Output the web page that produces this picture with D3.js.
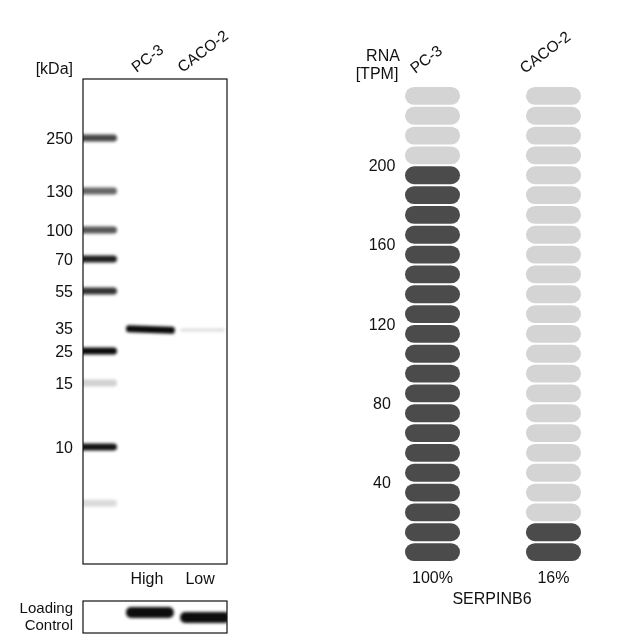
<!DOCTYPE html>
<html>
<head>
<meta charset="utf-8">
<script src="https://cdn.jsdelivr.net/npm/d3@7/dist/d3.min.js"></script>
<style>
  body { margin: 0; background: #fff; }
  text { font-family: "Liberation Sans", Arial, sans-serif; font-size: 16px; fill: #111; }
</style>
</head>
<body>
<div id="chart"></div>
<script>
// samples
const lanes = [ 'PC-3', 'CACO-2' ];
// western blot: marker ladder (labels and visible bands with their darkness)
const ladderLabels = [ 250, 130, 100, 70, 55, 35, 25, 15, 10 ];
const ladderBands = [ 250, 130, 100, 70, 55, 25, 15, 10, 7 ];
const ladderShade = [ 0.72, 0.6, 0.66, 0.88, 0.8, 0.96, 0.18, 0.93, 0.14 ];
// sample band (kDa) and darkness per lane
const sampleKda = [ 34, 34 ];
const sampleShade = [ 0.97, 0.14 ];
const expression = [ 'High', 'Low' ];
const loadingShade = [ 0.95, 0.95 ];
// RNA expression
const rnaTpm = [ 200, 24 ];
const rnaPercent = [ '100%', '16%' ];
const tpmTicks = [ 40, 80, 120, 160, 200 ];
const gene = 'SERPINB6';

const svg = d3.select( '#chart' ).append( 'svg' )
    .attr( 'width', 640 )
    .attr( 'height', 638 );

const defs = svg.append( 'defs' );
defs.append( 'filter' ).attr( 'id', 'blur' )
    .attr( 'x', '-20%' ).attr( 'y', '-200%' ).attr( 'width', '140%' ).attr( 'height', '500%' )
  .append( 'feGaussianBlur' ).attr( 'stdDeviation', '1.6 1.7' );

// ---------- left: western blot ----------
const blot = { x: 83, y: 79, w: 144, h: 485 };
const lc = { x: 83, y: 601, w: 144, h: 32 };

defs.append( 'clipPath' ).attr( 'id', 'blotclip' )
  .append( 'rect' ).attr( 'x', blot.x ).attr( 'y', blot.y ).attr( 'width', blot.w ).attr( 'height', blot.h );
defs.append( 'clipPath' ).attr( 'id', 'lcclip' )
  .append( 'rect' ).attr( 'x', lc.x ).attr( 'y', lc.y ).attr( 'width', lc.w ).attr( 'height', lc.h );

// migration calibration of the gel (log kDa -> y)
const yKda = d3.scaleLog()
    .domain( [ 250, 130, 100, 70, 55, 35, 25, 15, 10 ] )
    .range( [ 138, 191, 230, 259, 291, 328, 351, 383, 447 ] );

const xLane = d3.scaleBand()
    .domain( lanes )
    .range( [ 124, 228 ] )
    .paddingInner( 0.08 );

const bands = svg.append( 'g' ).attr( 'clip-path', 'url(#blotclip)' )
  .append( 'g' ).attr( 'filter', 'url(#blur)' );

bands.selectAll( 'rect.ladder' )
    .data( ladderBands )
    .enter()
    .append( 'rect' )
      .attr( 'class', 'ladder' )
      .attr( 'x', blot.x - 4 )
      .attr( 'y', function( d ){ return yKda( d ) - 3.5; } )
      .attr( 'width', 38 )
      .attr( 'height', 7 )
      .attr( 'rx', 3.5 )
      .style( 'fill', '#000' )
      .style( 'fill-opacity', function( d, i ){ return ladderShade[i]; } );

bands.selectAll( 'rect.sample' )
    .data( lanes )
    .enter()
    .append( 'rect' )
      .attr( 'class', 'sample' )
      .attr( 'x', function( d ){ return xLane( d ) + 2; } )
      .attr( 'y', function( d, i ){ return yKda( sampleKda[i] ) - ( i === 0 ? 4 : 1.5 ); } )
      .attr( 'width', function( d, i ){ return xLane.bandwidth() - ( i === 0 ? 1 : 5 ); } )
      .attr( 'height', function( d, i ){ return i === 0 ? 7 : 3; } )
      .attr( 'rx', 3 )
      .attr( 'transform', function( d, i ){
        return i === 0 ? 'rotate(2 ' + ( xLane( d ) + 25 ) + ' ' + yKda( sampleKda[i] ) + ')' : null; } )
      .style( 'fill', '#000' )
      .style( 'fill-opacity', function( d, i ){ return sampleShade[i]; } );

svg.append( 'rect' )
    .attr( 'x', blot.x ).attr( 'y', blot.y ).attr( 'width', blot.w ).attr( 'height', blot.h )
    .style( 'fill', 'none' ).style( 'stroke', '#111' ).style( 'stroke-width', 1.2 );

svg.selectAll( 'text.kda' )
    .data( ladderLabels )
    .enter()
    .append( 'text' )
      .attr( 'class', 'kda' )
      .attr( 'x', 73 )
      .attr( 'y', function( d ){ return yKda( d ); } )
      .attr( 'dy', '0.36em' )
      .attr( 'text-anchor', 'end' )
      .text( function( d ){ return d; } );

svg.append( 'text' ).attr( 'x', 73 ).attr( 'y', 74 ).attr( 'text-anchor', 'end' ).text( '[kDa]' );

// rotated lane labels
function laneLabels( g, xc, base, k ) {
  g.selectAll( 'text' )
    .data( lanes )
    .enter()
    .append( 'text' )
      .style( 'font-size', '15.5px' )
      .text( function( d ){ return d; } )
      .each( function( d ){
        const L = this.getComputedTextLength();
        const x0 = xc( d ) - k * L;
        d3.select( this ).attr( 'x', x0 ).attr( 'y', base )
          .attr( 'transform', 'rotate(-37 ' + x0 + ' ' + base + ')' );
      });
}
laneLabels( svg.append( 'g' ), function( d ){ return xLane( d ) + xLane.bandwidth() / 2; }, 73, 0.35 );

svg.selectAll( 'text.expr' )
    .data( expression )
    .enter()
    .append( 'text' )
      .attr( 'class', 'expr' )
      .attr( 'x', function( d, i ){ return xLane( lanes[i] ) + xLane.bandwidth() / 2 - ( i === 0 ? 2 : 3 ); } )
      .attr( 'y', 584 )
      .attr( 'text-anchor', 'middle' )
      .text( function( d ){ return d; } );

// loading control
const lcg = svg.append( 'g' ).attr( 'clip-path', 'url(#lcclip)' )
  .append( 'g' ).attr( 'filter', 'url(#blur)' );
lcg.selectAll( 'rect' )
    .data( lanes )
    .enter()
    .append( 'rect' )
      .attr( 'x', function( d ){ return xLane( d ) + 2; } )
      .attr( 'y', function( d, i ){ return i === 0 ? 607 : 612; } )
      .attr( 'width', function( d, i ){ return xLane.bandwidth() - ( i === 0 ? 2 : 0 ); } )
      .attr( 'height', 11 )
      .attr( 'rx', 5 )
      .style( 'fill', '#000' )
      .style( 'fill-opacity', function( d, i ){ return loadingShade[i]; } );

svg.append( 'rect' )
    .attr( 'x', lc.x ).attr( 'y', lc.y ).attr( 'width', lc.w ).attr( 'height', lc.h )
    .style( 'fill', 'none' ).style( 'stroke', '#111' ).style( 'stroke-width', 1.2 );

svg.append( 'text' ).attr( 'x', 73 ).attr( 'y', 613 ).attr( 'text-anchor', 'end' )
    .style( 'font-size', '15px' ).text( 'Loading' );
svg.append( 'text' ).attr( 'x', 73 ).attr( 'y', 630 ).attr( 'text-anchor', 'end' )
    .style( 'font-size', '15px' ).text( 'Control' );

// ---------- right: RNA pills ----------
const yTpm = d3.scaleLinear()
    .domain( [ 0, 240 ] )
    .range( [ 562, 86 ] );
const xRna = d3.scaleBand()
    .domain( lanes )
    .range( [ 405, 581 ] )
    .paddingInner( 0.545 );

const pillSteps = d3.range( 0, 240, 10 );

lanes.forEach( function( lane, li ) {
  svg.append( 'g' ).selectAll( 'rect' )
      .data( pillSteps )
      .enter()
      .append( 'rect' )
        .attr( 'x', xRna( lane ) )
        .attr( 'y', function( d ){ return yTpm( d + 10 ) + 1; } )
        .attr( 'width', xRna.bandwidth() )
        .attr( 'height', function( d ){ return yTpm( d ) - yTpm( d + 10 ) - 2; } )
        .attr( 'rx', 9 )
        .style( 'fill', function( d ){ return d + 10 <= rnaTpm[li] ? '#4b4b4b' : '#d4d4d4'; } );
});

svg.selectAll( 'text.tpm' )
    .data( tpmTicks )
    .enter()
    .append( 'text' )
      .attr( 'class', 'tpm' )
      .attr( 'x', 382 )
      .attr( 'y', function( d ){ return yTpm( d ); } )
      .attr( 'dy', '0.36em' )
      .attr( 'text-anchor', 'middle' )
      .text( function( d ){ return d; } );

svg.append( 'text' ).attr( 'x', 383 ).attr( 'y', 61 ).attr( 'text-anchor', 'middle' ).text( 'RNA' );
svg.append( 'text' ).attr( 'x', 377 ).attr( 'y', 79 ).attr( 'text-anchor', 'middle' ).text( '[TPM]' );

laneLabels( svg.append( 'g' ), function( d ){ return xRna( d ) + xRna.bandwidth() / 2; }, 74, 0.49 );

svg.selectAll( 'text.pct' )
    .data( rnaPercent )
    .enter()
    .append( 'text' )
      .attr( 'class', 'pct' )
      .attr( 'x', function( d, i ){ return xRna( lanes[i] ) + xRna.bandwidth() / 2; } )
      .attr( 'y', 583 )
      .attr( 'text-anchor', 'middle' )
      .text( function( d ){ return d; } );

svg.append( 'text' ).attr( 'x', 492 ).attr( 'y', 604 ).attr( 'text-anchor', 'middle' ).text( gene );
</script>
</body>
</html>
